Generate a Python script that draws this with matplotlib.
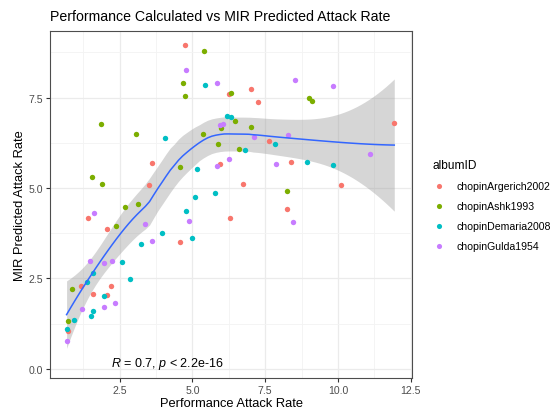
import numpy as np
import matplotlib
matplotlib.use("Agg")
import matplotlib.pyplot as plt
from matplotlib.lines import Line2D
from matplotlib.ticker import MultipleLocator, FormatStrFormatter

plt.rcParams['font.family'] = ['Liberation Sans', 'DejaVu Sans']
plt.rcParams['mathtext.fontset'] = 'custom'
plt.rcParams['mathtext.it'] = 'Liberation Sans:italic'
plt.rcParams['mathtext.rm'] = 'Liberation Sans'

# ---- data ----
albums = ["chopinArgerich2002", "chopinAshk1993", "chopinDemaria2008", "chopinGulda1954"]
colors = ["#F8766D", "#7CAE00", "#00BFC4", "#C77CFF"]

argerich_x = [4.74, 6.26, 7.02, 7.26, 11.94, 7.62, 5.95, 8.39, 3.60, 3.49, 6.75, 10.12, 8.24, 1.42, 6.28, 2.07, 4.57, 1.16, 2.19, 1.59, 2.05, 0.71]
argerich_y = [8.95, 7.59, 7.75, 7.38, 6.80, 6.29, 5.67, 5.72, 5.70, 5.09, 5.12, 5.09, 4.43, 4.16, 4.16, 3.88, 3.52, 2.30, 2.30, 2.06, 2.04, 1.05]

ashk_x = [5.40, 4.68, 4.76, 6.31, 9.00, 9.10, 1.87, 3.05, 5.98, 6.46, 7.01, 5.35, 5.87, 6.60, 4.58, 1.54, 1.89, 8.24, 2.69, 3.14, 2.37, 0.85, 0.71]
ashk_y = [8.80, 7.90, 7.54, 7.62, 7.50, 7.40, 6.77, 6.48, 6.67, 6.84, 6.69, 6.49, 6.22, 6.08, 5.58, 5.31, 5.12, 4.91, 4.48, 4.55, 3.95, 2.20, 1.32]

demaria_x = [5.44, 4.04, 6.20, 6.34, 7.83, 6.82, 8.95, 9.84, 5.17, 5.76, 5.08, 4.78, 3.95, 4.97, 3.24, 2.58, 1.57, 1.36, 2.84, 1.95, 1.59, 1.50, 0.94, 0.67]
demaria_y = [7.85, 6.39, 6.98, 6.97, 6.22, 6.06, 5.72, 5.63, 5.52, 4.85, 4.74, 4.37, 3.76, 3.62, 3.44, 2.95, 2.64, 2.39, 2.49, 2.01, 1.60, 1.46, 1.36, 1.10]

gulda_x = [4.79, 5.83, 8.51, 9.82, 5.93, 6.04, 8.30, 7.11, 11.12, 6.24, 5.83, 7.88, 1.63, 8.45, 4.88, 3.37, 3.60, 1.49, 1.95, 2.22, 2.32, 1.96, 1.20, 0.67]
gulda_y = [8.25, 7.90, 7.99, 7.81, 6.74, 6.76, 6.46, 6.41, 5.93, 5.81, 5.61, 5.67, 4.31, 4.05, 4.09, 4.01, 3.54, 2.98, 2.94, 2.98, 1.82, 1.72, 1.66, 0.77]

xs = [argerich_x, ashk_x, demaria_x, gulda_x]
ys = [argerich_y, ashk_y, demaria_y, gulda_y]

cor_label = r"$\it{R}$ = 0.7, $\it{p}$ < 2.2e-16"

# ---- loess (degree 2, span 0.75) like geom_smooth ----
def loess_rows(x, pts, span=0.75):
    n = len(x)
    q = int(np.floor(n * span))
    rows = []
    for x0 in pts:
        d = np.abs(x - x0)
        h = np.sort(d)[q - 1]
        w = np.clip(1 - (d / h) ** 3, 0, None) ** 3
        X = np.vstack([np.ones(n), x - x0, (x - x0) ** 2]).T
        XtW = X.T * w
        rows.append(np.linalg.solve(XtW @ X, XtW)[0])
    return np.array(rows)

ax_all = np.concatenate([np.array(v, float) for v in xs])
ay_all = np.concatenate([np.array(v, float) for v in ys])
L = loess_rows(ax_all, ax_all)
res = ay_all - L @ ay_all
IL = np.eye(len(ax_all)) - L
M = IL.T @ IL
d1 = np.trace(M)
d2 = np.trace(M @ M)
s = np.sqrt(res @ res / d1)
dfree = d1 ** 2 / d2
z = 1.959964
tq = z + (z ** 3 + z) / (4 * dfree) + (5 * z ** 5 + 16 * z ** 3 + 3 * z) / (96 * dfree ** 2)
xe = np.linspace(ax_all.min(), ax_all.max(), 80)
Le = loess_rows(ax_all, xe)
fit = Le @ ay_all
se = s * np.sqrt((Le ** 2).sum(1))

# ---- figure ----
W, H = 559, 414
fig = plt.figure(figsize=(W / 100, H / 100), dpi=100)
L0, R0, T0, B0 = 50, 412, 32, 379
ax = fig.add_axes([L0 / W, 1 - B0 / H, (R0 - L0) / W, (B0 - T0) / H])
ax.set_facecolor("white")

ax.fill_between(xe, fit - tq * se, fit + tq * se, color="#999999", alpha=0.4, linewidth=0, zorder=2)
for xv, yv, c, lab in zip(xs, ys, colors, albums):
    ax.scatter(xv, yv, s=15, color=c, linewidths=0, zorder=3, label=lab)
ax.plot(xe, fit, color="#3366FF", linewidth=1.1, zorder=4)

ax.text(2.19, 0.17, cor_label, fontsize=9, ha="left", va="center", zorder=5)

ax.set_xlim(0.1, 12.55)
ax.set_ylim(-0.25, 9.34)
ax.xaxis.set_major_locator(MultipleLocator(2.5))
ax.yaxis.set_major_locator(MultipleLocator(2.5))
ax.xaxis.set_minor_locator(MultipleLocator(1.25))
ax.yaxis.set_minor_locator(MultipleLocator(1.25))
ax.xaxis.set_major_formatter(FormatStrFormatter("%.1f"))
ax.yaxis.set_major_formatter(FormatStrFormatter("%.1f"))
ax.grid(which="major", color="#EBEBEB", linewidth=0.9, zorder=0)
ax.grid(which="minor", color="#F3F3F3", linewidth=0.6, zorder=0)
ax.set_axisbelow(True)
for sp in ax.spines.values():
    sp.set_color("#4D4D4D")
    sp.set_linewidth(0.8)
ax.tick_params(which="major", length=3, width=0.8, color="#333333", labelsize=7.6, labelcolor="#4D4D4D", pad=2)
ax.tick_params(which="minor", length=0)

ax.set_xlabel("Performance Attack Rate", fontsize=9.3, labelpad=1.5)
ax.set_ylabel("MIR Predicted Attack Rate", fontsize=9.3, labelpad=2)

fig.text(L0 / W, 1 - 17 / H, "Performance Calculated vs MIR Predicted Attack Rate",
         fontsize=10.2, ha="left", va="center")

handles = [Line2D([], [], marker="o", linestyle="none", markersize=3.7,
                  markerfacecolor=c, markeredgewidth=0) for c in colors]
leg = ax.legend(handles, albums, title="albumID", loc="upper left",
                bbox_to_anchor=(428 / W, 1 - 156 / H), bbox_transform=fig.transFigure,
                frameon=False, fontsize=7.6, title_fontsize=8.6, labelspacing=0.95,
                handlelength=1.2, handletextpad=1.1, borderaxespad=0, alignment="left")

fig.savefig("out.png", dpi=100)
